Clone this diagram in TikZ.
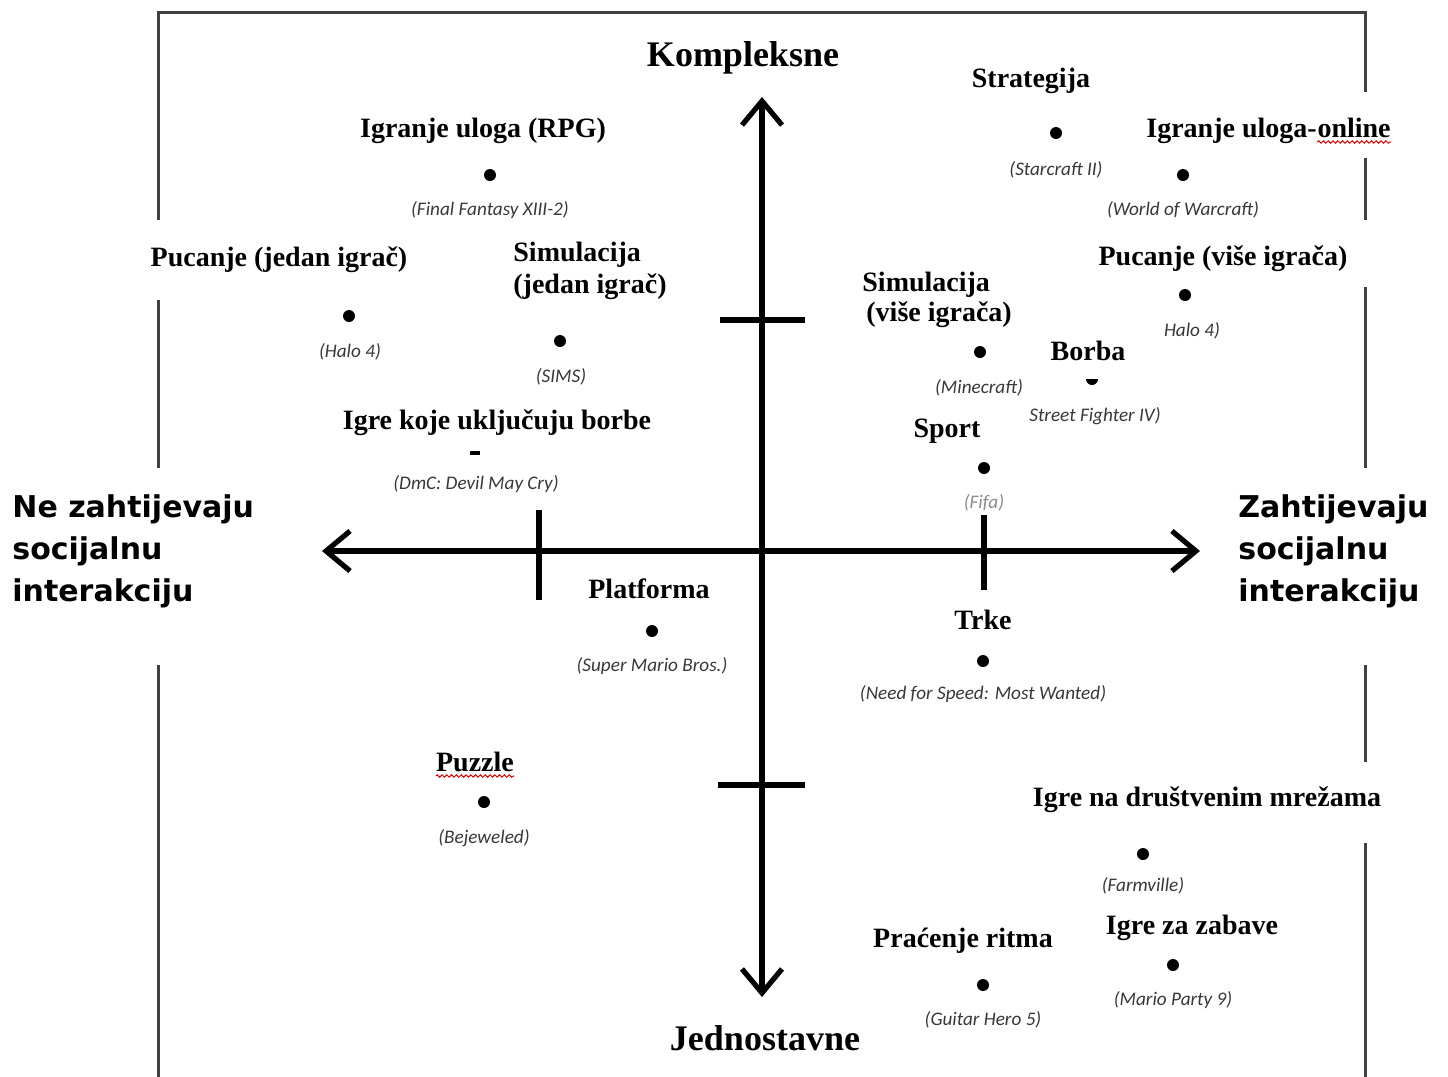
\documentclass[tikz,border=0pt]{standalone}
\usepackage{fontspec}
\setmainfont{Liberation Serif}
\newfontfamily\sidefont{DejaVu Sans}
\newfontfamily\exfont{Carlito}
\usetikzlibrary{arrows.meta,decorations.pathmorphing}
\begin{document}
\begin{tikzpicture}[x=0.5pt,y=-0.5pt,
  frame/.style={draw=black!75,line width=1.5pt},
  axis/.style={line width=2.6pt,{Straight Barb[length=12pt,width=20pt]}-{Straight Barb[length=12pt,width=20pt]}},
  tickm/.style={line width=3pt},
  cat/.style={font=\bfseries\fontsize{14}{16}\selectfont,inner sep=0pt,anchor=base},
  catw/.style={cat,anchor=base west},
  ex/.style={font=\exfont\itshape\fontsize{9.6}{10}\selectfont,text=black!78,inner sep=0pt},
  dot/.style={circle,fill=black,inner sep=0pt,minimum size=6pt},
  big/.style={font=\bfseries\fontsize{18}{20}\selectfont,inner sep=0pt,anchor=base},
  side/.style={font=\sidefont\bfseries\fontsize{15}{21}\selectfont,align=left,inner sep=0pt,anchor=west},
  squig/.style={draw=red!85!black,line width=0.5pt,decorate,decoration={snake,amplitude=0.6pt,segment length=2.4pt}}
]
\useasboundingbox (0,0) rectangle (1448,1077);
\fill[white] (0,0) rectangle (1448,1077);
% frame
\draw[frame] (158,220) -- (158,12) -- (1365,12) -- (1365,92);
\draw[frame] (158,300) -- (158,468);
\draw[frame] (158,665) -- (158,1077);
\draw[frame] (1365,158) -- (1365,220);
\draw[frame] (1365,287) -- (1365,468);
\draw[frame] (1365,665) -- (1365,762);
\draw[frame] (1365,843) -- (1365,1077);
% axes
\coordinate (L) at (322,551);
\coordinate (R) at (1200,551);
\coordinate (T) at (762,97);
\coordinate (B) at (762,997);
\draw[axis] (L) -- (R);
\draw[axis] (B) -- (T);
\coordinate (t1a) at (539,510); \coordinate (t1b) at (539,600);
\coordinate (t2a) at (984,515); \coordinate (t2b) at (984,590);
\coordinate (t3a) at (720,320); \coordinate (t3b) at (805,320);
\coordinate (t4a) at (718,785); \coordinate (t4b) at (805,785);
\draw[tickm] (t1a) -- (t1b);
\draw[tickm] (t2a) -- (t2b);
\draw[tickm] (t3a) -- (t3b);
\draw[tickm] (t4a) -- (t4b);
% axis labels
\node[big] (komp) at (743,66) {Kompleksne};
\node[big] (jedn) at (765,1050) {Jednostavne};
\node[side] (lside) at (12,551) {Ne zahtijevaju\\socijalnu\\interakciju};
\node[side] (rside) at (1238,551) {Zahtijevaju\\socijalnu\\interakciju};
% categories
\node[cat] (rpg) at (483,137) {Igranje uloga (RPG)};
\node[dot] (rpgd) at (490,175) {};
\node[ex] (ff) at (490,210) {(Final Fantasy XIII-2)};

\node[cat] (pucj) at (279,266) {Pucanje (jedan igrač)};
\node[dot] (pucjd) at (349,316) {};
\node[ex] (halo1) at (350,352) {(Halo 4)};

\node[catw] (simA) at (513,261) {Simulacija};
\node[catw] (simB) at (513,293) {(jedan igrač)};
\node[dot] (simd) at (560,341) {};
\node[ex] (sims) at (561,377) {(SIMS)};

\node[cat] (borbe) at (497,429) {Igre koje uključuju borbe};
\node[fill=black,inner sep=0pt,minimum width=5pt,minimum height=1.6pt] (borbed) at (475,453) {};
\node[ex] (dmc) at (476,484) {(DmC: Devil May Cry)};

\node[cat] (strat) at (1031,87) {Strategija};
\node[dot] (stratd) at (1056,133) {};
\node[ex] (sc) at (1056,170) {(Starcraft II)};

\node[catw] (onA) at (1146,137) {Igranje uloga-};
\node[catw] (onB) at (onA.base east) {online};
\draw[squig] ([yshift=-2.5pt]onB.base west) -- ([yshift=-2.5pt]onB.base east);
\node[dot] (onlined) at (1183,175) {};
\node[ex] (wow) at (1183,210) {(World of Warcraft)};

\node[cat] (pucv) at (1223,265) {Pucanje (više igrača)};
\node[dot] (pucvd) at (1185,295) {};
\node[ex] (halo2) at (1192,331) {Halo 4)};

\node[catw] (simvA) at (862,291) {Simulacija};
\node[catw] (simvB) at (866,321) {(više igrača)};
\node[dot] (simvd) at (980,352) {};
\node[ex] (mine) at (979,388) {(Minecraft)};

\node[cat] (borba) at (1088,360) {Borba};
\begin{scope}
  \clip (1080,379) rectangle (1104,392);
  \fill (1092,379) circle[radius=3pt];
\end{scope}
\node[ex] (sf) at (1095,416) {Street Fighter IV)};

\node[cat] (sport) at (947,437) {Sport};
\node[dot] (sportd) at (984,468) {};
\node[ex,text=black!45] (fifa) at (984,503) {(Fifa)};

\node[cat] (plat) at (649,598) {Platforma};
\node[dot] (platd) at (652,631) {};
\node[ex] (smb) at (652,666) {(Super Mario Bros.)};

\node[cat] (puzzle) at (475,771) {Puzzle};
\draw[squig] ([yshift=-2.5pt]puzzle.base west) -- ([yshift=-2.5pt]puzzle.base east);
\node[dot] (puzzled) at (484,802) {};
\node[ex] (bej) at (484,838) {(Bejeweled)};

\node[cat] (trke) at (983,629) {Trke};
\node[dot] (trked) at (983,661) {};
\node[ex] (nfs) at (983,694) {(Need for Speed: Most Wanted)};

\node[cat] (drus) at (1207,806) {Igre na društvenim mrežama};
\node[dot] (drusd) at (1143,854) {};
\node[ex] (farm) at (1143,886) {(Farmville)};

\node[cat] (zab) at (1192,934) {Igre za zabave};
\node[dot] (zabd) at (1173,965) {};
\node[ex] (mp) at (1173,1000) {(Mario Party 9)};

\node[cat] (ritam) at (963,947) {Praćenje ritma};
\node[dot] (ritamd) at (983,985) {};
\node[ex] (gh) at (983,1020) {(Guitar Hero 5)};
\end{tikzpicture}
\end{document}
